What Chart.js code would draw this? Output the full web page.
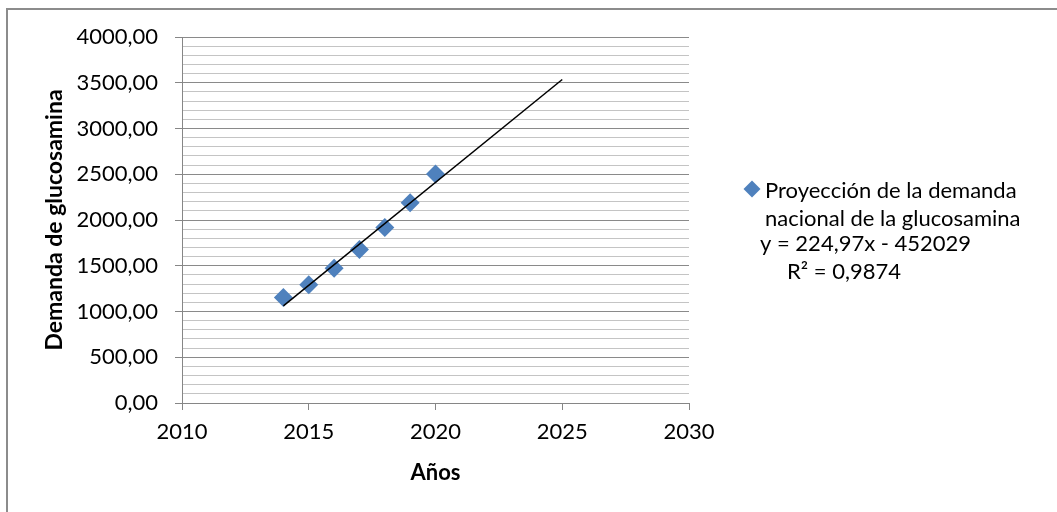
<!DOCTYPE html>
<html>
<head>
<meta charset="utf-8">
<title>Proyección de la demanda nacional de la glucosamina</title>
<script src="https://cdn.jsdelivr.net/npm/chart.js@4/dist/chart.umd.min.js"></script>
<style>
  html, body { margin: 0; padding: 0; background: #ffffff; }
  canvas { display: block; }
</style>
</head>
<body>
<canvas id="chart" width="1057" height="512"></canvas>
<script>
// Observed national demand by year
const years = [2014, 2015, 2016, 2017, 2018, 2019, 2020];
const demand = [1152, 1291, 1474, 1677, 1918, 2188, 2502];

// Linear trend (least squares) and its projection range
const trendSlope = 224.97;
const trendIntercept = -452029;
const trendR2 = 0.9874;
const trendYears = [2014, 2025];

// Axis ticks
const xTicks = [2010, 2015, 2020, 2025, 2030];
const yTicks = [0, 500, 1000, 1500, 2000, 2500, 3000, 3500, 4000];

const seriesName = ['Proyección de la demanda', 'nacional de la glucosamina'];
const xTitle = 'Años';
const yTitle = 'Demanda de glucosamina';

const FONT = 'Lato, "Open Sans", sans-serif';
const BLUE = '#4F81BD';
const MAJOR_GRID = '#8a8a8a';
const MINOR_GRID = '#c4c4c4';
const AXIS = '#868686';

const fmtComma = (v, d) => v.toFixed(d).replace('.', ',');
const trendValue = x => trendSlope * x + trendIntercept;

const scatterPoints = years.map((x, i) => ({ x: x, y: demand[i] }));
const trendPoints = trendYears.map(x => ({ x: x, y: trendValue(x) }));

const equationText = 'y = ' + fmtComma(trendSlope, 2) + 'x ' +
  (trendIntercept < 0 ? '- ' : '+ ') + Math.abs(trendIntercept);
const r2Text = 'R² = ' + fmtComma(trendR2, 4);

// White page and outer chart frame
const framePlugin = {
  id: 'frame',
  beforeDraw(chart) {
    const ctx = chart.ctx;
    ctx.save();
    ctx.fillStyle = '#ffffff';
    ctx.fillRect(0, 0, chart.width, chart.height);
    ctx.strokeStyle = '#8c8c8c';
    ctx.lineWidth = 2;
    ctx.strokeRect(7, 9, chart.width + 20, chart.height + 20);
    ctx.restore();
  }
};

// Legend entry with the trend equation underneath
const legendPlugin = {
  id: 'sideLegend',
  afterDraw(chart) {
    const ctx = chart.ctx;
    ctx.save();
    // diamond marker
    const cx = 752, cy = 189, r = 8.5;
    ctx.fillStyle = BLUE;
    ctx.beginPath();
    ctx.moveTo(cx, cy - r);
    ctx.lineTo(cx + r, cy);
    ctx.lineTo(cx, cy + r);
    ctx.lineTo(cx - r, cy);
    ctx.closePath();
    ctx.fill();

    ctx.fillStyle = '#000000';
    ctx.font = '22px ' + FONT;
    ctx.textAlign = 'left';
    ctx.textBaseline = 'alphabetic';
    ctx.fillText(seriesName[0], 765, 198);
    ctx.fillText(seriesName[1], 765, 226);
    ctx.fillText(equationText, 760, 251);
    ctx.fillText(r2Text, 787, 279);
    ctx.restore();
  }
};

new Chart(document.getElementById('chart'), {
  type: 'scatter',
  data: {
    datasets: [
      {
        label: seriesName.join(' '),
        data: scatterPoints,
        pointStyle: 'rectRot',
        pointRadius: 9.5,
        pointHoverRadius: 9.5,
        backgroundColor: BLUE,
        borderColor: BLUE,
        borderWidth: 0,
        order: 2
      },
      {
        type: 'line',
        label: 'Lineal',
        data: trendPoints,
        borderColor: '#000000',
        borderWidth: 1.5,
        pointRadius: 0,
        fill: false,
        showLine: true,
        order: 1
      }
    ]
  },
  options: {
    responsive: false,
    animation: false,
    devicePixelRatio: 1,
    layout: { padding: { top: 37, right: 368, bottom: 0, left: 0 } },
    plugins: {
      legend: { display: false },
      tooltip: { enabled: false }
    },
    scales: {
      x: {
        type: 'linear',
        min: xTicks[0],
        max: xTicks[xTicks.length - 1],
        afterBuildTicks(scale) { scale.ticks = xTicks.map(v => ({ value: v })); },
        afterFit(scale) { scale.height = 109; },
        border: { display: true, color: AXIS, width: 1 },
        grid: {
          drawOnChartArea: false,
          drawTicks: true,
          tickLength: 7,
          tickColor: AXIS
        },
        ticks: {
          color: '#000000',
          font: { family: FONT, size: 22 },
          padding: 9,
          maxRotation: 0,
          callback: v => String(v)
        },
        title: {
          display: true,
          text: xTitle,
          color: '#000000',
          font: { family: FONT, size: 22, weight: 'bold' },
          padding: { top: 0, bottom: 26 }
        }
      },
      y: {
        type: 'linear',
        min: yTicks[0],
        max: yTicks[yTicks.length - 1],
        afterBuildTicks(scale) {
          const t = [];
          for (let v = yTicks[0]; v <= yTicks[yTicks.length - 1]; v += 100) t.push({ value: v });
          scale.ticks = t;
        },
        afterFit(scale) { scale.width = 182; },
        border: { display: true, color: AXIS, width: 1 },
        grid: {
          drawTicks: true,
          tickLength: 7,
          color: c => (yTicks.includes(c.tick.value) ? MAJOR_GRID : MINOR_GRID),
          tickColor: c => (yTicks.includes(c.tick.value) ? AXIS : 'rgba(0,0,0,0)'),
          lineWidth: 1
        },
        ticks: {
          color: '#000000',
          font: { family: FONT, size: 22 },
          padding: 17,
          autoSkip: false,
          callback: v => (yTicks.includes(v) ? fmtComma(v, 2) : '')
        },
        title: {
          display: true,
          text: yTitle,
          color: '#000000',
          font: { family: FONT, size: 23, weight: 'bold' },
          padding: { top: 41, bottom: 41 }
        }
      }
    }
  },
  plugins: [framePlugin, legendPlugin]
});
</script>
</body>
</html>
